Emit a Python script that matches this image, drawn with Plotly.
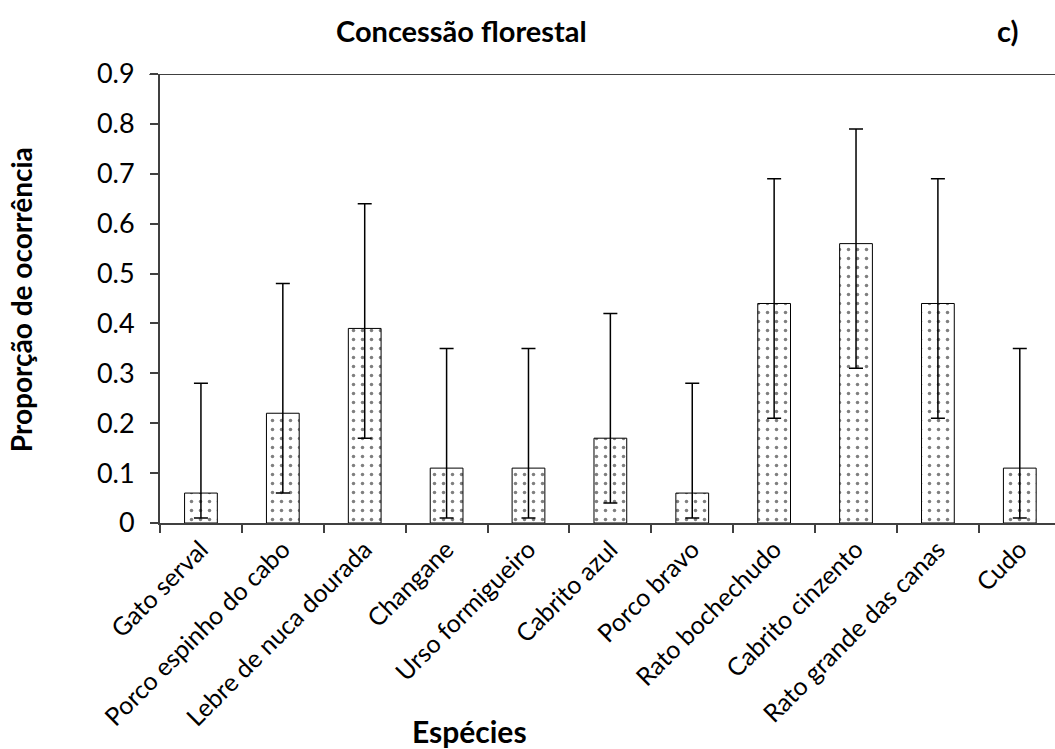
import plotly.graph_objects as go

species = ["Gato serval", "Porco espinho do cabo", "Lebre de nuca dourada", "Changane",
           "Urso formigueiro", "Cabrito azul", "Porco bravo", "Rato bochechudo",
           "Cabrito cinzento", "Rato grande das canas", "Cudo"]
proportion = [0.06, 0.22, 0.39, 0.11, 0.11, 0.17, 0.06, 0.44, 0.56, 0.44, 0.11]
upper_ci = [0.28, 0.48, 0.64, 0.35, 0.35, 0.42, 0.28, 0.69, 0.79, 0.69, 0.35]
lower_ci = [0.01, 0.06, 0.17, 0.01, 0.01, 0.04, 0.01, 0.21, 0.31, 0.21, 0.01]
y_ticks = [0, 0.1, 0.2, 0.3, 0.4, 0.5, 0.6, 0.7, 0.8, 0.9]
y_ticktext = ["0", "0.1", "0.2", "0.3", "0.4", "0.5", "0.6", "0.7", "0.8", "0.9"]

err_plus = [u - p for u, p in zip(upper_ci, proportion)]
err_minus = [p - l for p, l in zip(proportion, lower_ci)]

FONT = "Lato"

fig = go.Figure()
fig.add_trace(go.Bar(
    x=species, y=proportion, width=0.4,
    marker=dict(color="white", line=dict(color="black", width=1),
                pattern=dict(shape=".", fgcolor="black", bgcolor="white", size=9, solidity=0.12)),
    error_y=dict(type="data", symmetric=False, array=err_plus, arrayminus=err_minus,
                 color="black", thickness=1.5, width=7),
    showlegend=False,
))

fig.update_layout(
    width=1055, height=749,
    margin=dict(l=160, r=0, t=74, b=226),
    plot_bgcolor="white", paper_bgcolor="white",
    font=dict(family=FONT, color="black", size=22),
    bargap=0.6,
    xaxis=dict(
        type="category", range=[-0.5, 10.43],
        showline=True, linecolor="#404040", linewidth=2,
        ticks="outside", tickson="boundaries", ticklen=8, tickcolor="#404040", tickwidth=1.5,
        tickangle=-45, tickfont=dict(family=FONT, size=25, color="black"),
        showgrid=False, zeroline=False,
    ),
    yaxis=dict(
        range=[0, 0.9], tickvals=y_ticks, ticktext=y_ticktext,
        showline=True, linecolor="#404040", linewidth=2,
        ticks="outside", ticklen=8, tickcolor="#404040", tickwidth=1.5,
        tickfont=dict(family=FONT, size=27, color="black"),
        ticklabelstandoff=10,
        showgrid=False, zeroline=False,
    ),
    shapes=[dict(type="line", xref="paper", yref="y", x0=-0.012, x1=1, y0=0.9, y1=0.9,
                 line=dict(color="#404040", width=2))],
    annotations=[
        dict(text="<b>Concessão florestal</b>", xref="paper", yref="paper", x=0.337, y=1.096,
             xanchor="center", yanchor="middle", showarrow=False, font=dict(size=29)),
        dict(text="<b>c)</b>", xref="paper", yref="paper", x=0.947, y=1.096,
             xanchor="center", yanchor="middle", showarrow=False, font=dict(size=29)),
        dict(text="<b>Espécies</b>", xref="paper", yref="paper", x=0.346, y=-0.463,
             xanchor="center", yanchor="middle", showarrow=False, font=dict(size=30)),
        dict(text="<b>Proporção de ocorrência</b>", xref="paper", yref="paper", x=-0.156, y=0.497,
             xanchor="center", yanchor="middle", showarrow=False, textangle=-90, font=dict(size=28)),
    ],
)

fig.write_html("out.html")
